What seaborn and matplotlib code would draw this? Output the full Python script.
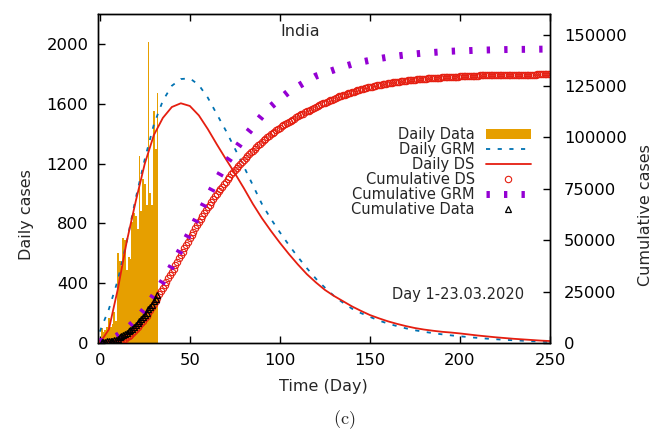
import matplotlib
matplotlib.use("Agg")
import matplotlib.pyplot as plt
from matplotlib.patches import Patch
from matplotlib.lines import Line2D
import numpy as np
import seaborn as sns

# ---------------- data ----------------
# reported data, day 1 = 23.03.2020
data_days = list(range(1, 33))
daily_data = [100, 75, 85, 110, 165, 110, 130, 210, 150, 600,
              550, 515, 700, 690, 490, 575, 560, 810, 870, 850,
              760, 1250, 880, 1100, 1060, 920, 2010, 1000, 920, 1550,
              1300, 1670]
cum_data = [500, 575, 660, 770, 935, 1045, 1175, 1385, 1535, 2135,
            2685, 3200, 3900, 4590, 5080, 5655, 6215, 7025, 7895, 8745,
            9505, 10755, 11635, 12735, 13795, 14715, 16725, 17725, 18645, 20195,
            21495, 23165]

# model curves, every 5 days
model_days = list(range(0, 251, 5))
daily_grm = [76, 225, 420, 680, 970, 1230, 1460, 1620, 1720, 1765,
             1770, 1725, 1640, 1530, 1420, 1300, 1180, 1055, 930, 830,
             740, 655, 575, 500, 430, 370, 315, 270, 230, 200,
             175, 150, 130, 113, 98, 85, 75, 66, 58, 51,
             45, 39, 34, 29, 25, 21, 18, 15, 12, 10,
             8]
daily_ds = [0, 90, 360, 680, 950, 1200, 1390, 1505, 1578, 1603,
            1585, 1522, 1430, 1328, 1230, 1135, 1035, 930, 835, 750,
            670, 595, 525, 460, 405, 355, 315, 280, 245, 215,
            187, 165, 145, 128, 113, 100, 90, 82, 75, 70,
            64, 57, 50, 44, 38, 33, 28, 24, 20, 16,
            13]
cum_grm = [600, 1500, 3600, 6800, 11000, 16500, 23000, 30000, 37500, 45500,
           54000, 62500, 71000, 79300, 87000, 93500, 99800, 105200, 110500, 115000,
           118800, 122300, 124800, 127400, 129800, 131300, 132800, 134300, 135600, 136600,
           137500, 138300, 139000, 139600, 140100, 140600, 141000, 141300, 141600, 141900,
           142100, 142200, 142400, 142500, 142600, 142700, 142750, 142800, 142850, 142900,
           142950]

# DS cumulative, every day
ds_days = list(range(0, 251))
cum_ds = [0, 15, 30, 50, 90, 150, 210, 290, 400, 530,
          700, 920, 1200, 1600, 2100, 2700, 3350, 4100, 4900, 5750,
          6700, 7650, 8650, 9700, 10800, 12000, 13300, 14600, 16000, 17500,
          19000, 20500, 22000, 23600, 25100, 26700, 28300, 29800, 31400, 33000,
          34600, 36200, 37800, 39400, 41100, 42700, 44400, 46000, 47700, 49300,
          51000, 52600, 54200, 55700, 57300, 58800, 60300, 61800, 63200, 64600,
          66000, 67300, 68700, 70000, 71300, 72500, 73700, 74900, 76100, 77300,
          78500, 79700, 80800, 82000, 83100, 84200, 85200, 86200, 87200, 88100,
          89100, 90000, 90900, 91800, 92700, 93600, 94400, 95300, 96100, 96900,
          97700, 98500, 99200, 100000, 100700, 101400, 102100, 102800, 103400, 104100,
          104700, 105300, 105900, 106500, 107100, 107600, 108100, 108600, 109100, 109700,
          110200, 110700, 111200, 111600, 112100, 112600, 113000, 113500, 113900, 114400,
          114800, 115200, 115700, 116100, 116500, 116900, 117300, 117700, 118100, 118400,
          118800, 119200, 119500, 119900, 120200, 120500, 120800, 121100, 121400, 121700,
          122000, 122300, 122600, 122800, 123100, 123300, 123600, 123800, 124000, 124300,
          124500, 124700, 124900, 125100, 125300, 125500, 125700, 125800, 126000, 126200,
          126300, 126500, 126600, 126800, 126900, 127000, 127100, 127200, 127400, 127500,
          127600, 127700, 127800, 127900, 128000, 128100, 128200, 128300, 128400, 128400,
          128500, 128600, 128700, 128800, 128800, 128900, 129000, 129000, 129100, 129100,
          129200, 129300, 129300, 129400, 129400, 129500, 129500, 129600, 129600, 129600,
          129700, 129700, 129800, 129800, 129800, 129900, 129900, 129900, 130000, 130000,
          130000, 130100, 130100, 130100, 130100, 130200, 130200, 130200, 130200, 130200,
          130300, 130300, 130300, 130300, 130300, 130400, 130400, 130400, 130400, 130400,
          130400, 130400, 130400, 130500, 130500, 130500, 130500, 130500, 130500, 130500,
          130500, 130500, 130500, 130600, 130600, 130600, 130600, 130600, 130600, 130600,
          130600]

ORANGE = "#e69f00"
BLUE = "#0072b2"
RED = "#e51e10"
PURPLE = "#9400d3"

BLUE_LS = (0, (3, 5.4))
PURPLE_LS = (0, (2.4, 10.2))

# ---------------- plot ----------------
sns.set_style("ticks")
plt.rcParams['font.family'] = ['DejaVu Sans']
plt.rcParams['mathtext.fontset'] = 'cm'
plt.rcParams['lines.scale_dashes'] = False

W, H = 668, 433
fig = plt.figure(figsize=(W / 100, H / 100), dpi=100)
ax = fig.add_axes([98 / W, 1 - 343 / H, (550 - 98) / W, (343 - 14) / H])
ax2 = ax.twinx()

sns.histplot(x=data_days, weights=daily_data, discrete=True, color=ORANGE,
             alpha=1, linewidth=0, ax=ax)
sns.lineplot(x=model_days, y=daily_grm, color=BLUE, lw=1.3, linestyle=BLUE_LS,
             estimator=None, sort=False, ax=ax)
sns.lineplot(x=model_days, y=daily_ds, color=RED, lw=1.3,
             estimator=None, sort=False, ax=ax)

sns.lineplot(x=ds_days, y=cum_ds, color=RED, linestyle='none', marker='o',
             markersize=4.6, markerfacecolor='none', markeredgecolor=RED,
             markeredgewidth=0.8, estimator=None, sort=False, ax=ax2)
sns.lineplot(x=model_days, y=cum_grm, color=PURPLE, lw=5, linestyle=PURPLE_LS,
             estimator=None, sort=False, ax=ax2)
sns.lineplot(x=data_days, y=cum_data, color='black', linestyle='none', marker='^',
             markersize=4.6, markerfacecolor='none', markeredgecolor='black',
             markeredgewidth=0.9, estimator=None, sort=False, ax=ax2)

ax.set_xlim(-1, 250)
ax.set_ylim(0, 2200)
ax2.set_ylim(0, 160000)
ax.set_xticks(range(0, 251, 50))
ax.set_yticks(range(0, 2001, 400))
ax2.set_yticks(range(0, 150001, 25000))
ax.set_xlabel("")
ax.set_ylabel("")
ax2.set_ylabel("")

ax.tick_params(direction='in', length=5, width=1, top=True, right=False,
               labelsize=11.8, pad=7, colors='black')
ax2.tick_params(direction='in', length=5, width=1, labelsize=11.8, pad=10,
                colors='black')
for a in (ax, ax2):
    for s in a.spines.values():
        s.set_visible(True)
        s.set_color('black')
        s.set_linewidth(1.0)

ax.text(0.447, 0.947, "India", transform=ax.transAxes, ha='center', va='center',
        fontsize=11.5)
ax.text(0.7976, 0.146, "Day 1-23.03.2020", transform=ax.transAxes, ha='center',
        va='center', fontsize=10.5)

fig.text(323.5 / W, 1 - 387 / H, "Time (Day)", ha='center', va='center', fontsize=11.5)
fig.text(27 / W, 1 - 215 / H, "Daily cases", ha='center', va='center',
         rotation=90, fontsize=11.5)
fig.text(645 / W, 1 - 215 / H, "Cumulative cases", ha='center', va='center',
         rotation=90, fontsize=11.5)
fig.text(344 / W, 1 - 420 / H, r"$\mathrm{(c)}$", ha='center', va='center', fontsize=13)

handles = [
    Patch(facecolor=ORANGE, edgecolor='none'),
    Line2D([], [], color=BLUE, lw=1.3, linestyle=BLUE_LS),
    Line2D([], [], color=RED, lw=1.3),
    Line2D([], [], color=RED, linestyle='none', marker='o', markersize=4.6,
           markerfacecolor='none', markeredgewidth=0.8),
    Line2D([], [], color=PURPLE, lw=5, linestyle=PURPLE_LS),
    Line2D([], [], color='black', linestyle='none', marker='^', markersize=4.6,
           markerfacecolor='none', markeredgewidth=0.9),
]
labels = ["Daily Data", "Daily GRM", "Daily DS", "Cumulative DS",
          "Cumulative GRM", "Cumulative Data"]
ax2.legend(handles, labels, loc='upper right',
           bbox_to_anchor=(531 / W, 1 - 127 / H), bbox_transform=fig.transFigure,
           frameon=False, markerfirst=False, fontsize=10.5, handlelength=3.1,
           handletextpad=0.75, labelspacing=0.0, borderpad=0, borderaxespad=0,
           numpoints=1)

fig.savefig("out.png", dpi=100)
